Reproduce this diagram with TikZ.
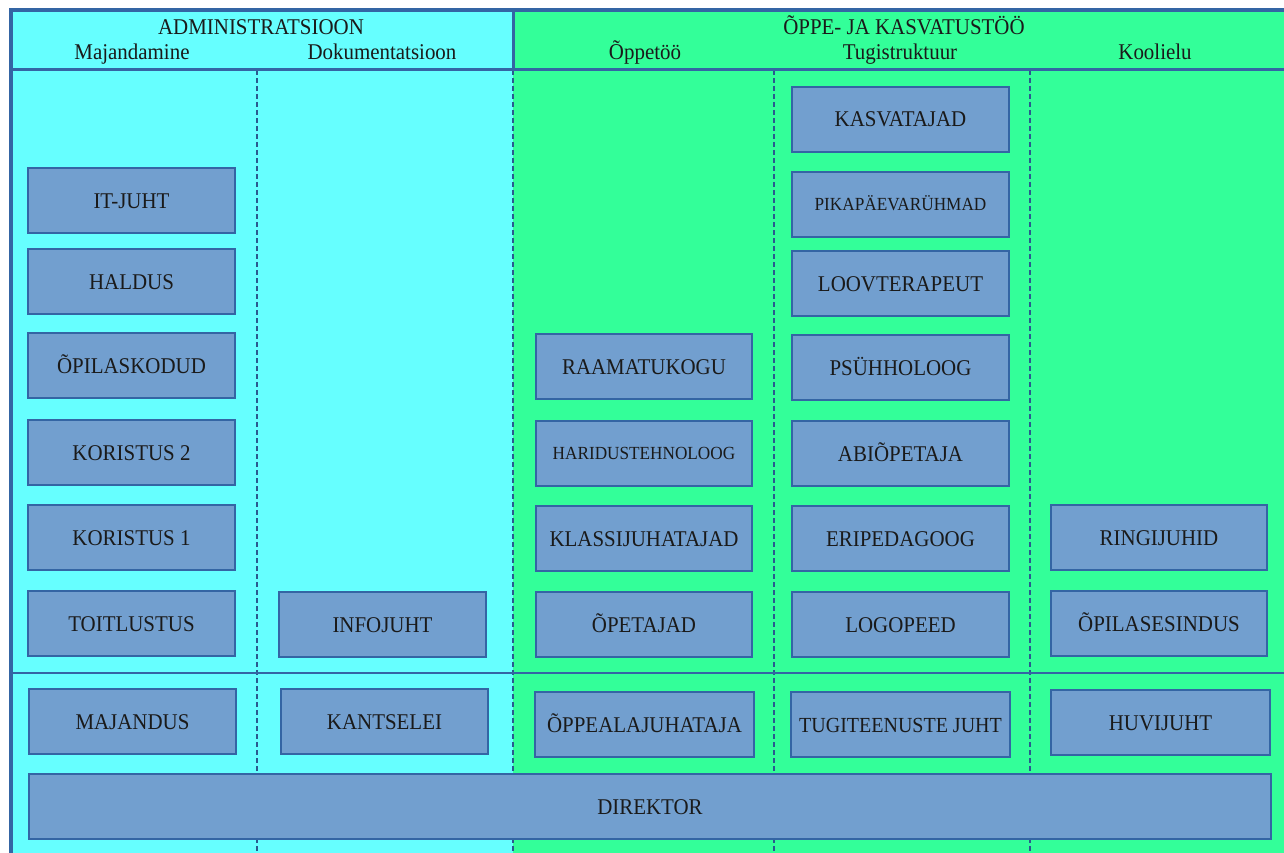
\documentclass[tikz,border=0pt]{standalone}
\usepackage{fontspec}
\setmainfont{Liberation Serif}[FakeStretch=0.93]
\definecolor{cyanbg}{HTML}{66FFFF}
\definecolor{greenbg}{HTML}{33FF99}
\definecolor{boxfill}{HTML}{729FCF}
\definecolor{boxline}{HTML}{3465A4}
\definecolor{frameline}{HTML}{3465A4}
\definecolor{dashcol}{HTML}{2A5A8F}
\definecolor{txt}{HTML}{1A1A1A}
\newcommand\boxfont{\fontsize{22.5}{26}\selectfont}
\newcommand\smallboxfont{\fontsize{18.5}{22}\selectfont}
\newcommand\headfont{\fontsize{22.5}{26}\selectfont}
\tikzset{
  bx/.style={draw=boxline, fill=boxfill, line width=2pt, inner sep=0pt,
    minimum width=207pt, minimum height=65pt, font=\boxfont, text=txt,
    text height=15pt, text depth=0pt},
  sbx/.style={bx, font=\smallboxfont, text height=12.3pt},
  framel/.style={draw=frameline, line width=4pt},
  headl/.style={draw=frameline, line width=3pt},
  midl/.style={draw=frameline, line width=2.5pt},
  dashl/.style={draw=dashcol, line width=2pt, dash pattern=on 5pt off 3pt},
  head/.style={font=\headfont, text=txt, anchor=base, inner sep=0pt}
}
\begin{document}
\begin{tikzpicture}[x=1pt,y=-1pt]
\useasboundingbox (0,0) rectangle (1284,853);
% backgrounds
\fill[cyanbg] (10,10) rectangle (513,853);
\fill[greenbg] (513,10) rectangle (1284,853);
% grid coordinates
\coordinate (tl) at (10.5,10.5);
\coordinate (tr) at (1284,10.5);
\coordinate (bl) at (10.5,853);
\coordinate (hl) at (10,70);
\coordinate (hr) at (1284,70);
\coordinate (ml) at (10,673);
\coordinate (mr) at (1284,673);
\coordinate (v0t) at (513,10);
\coordinate (v0h) at (513,70);
\coordinate (v0b) at (513,853);
\coordinate (v1t) at (257,70);
\coordinate (v1b) at (257,853);
\coordinate (v2t) at (774,70);
\coordinate (v2b) at (774,853);
\coordinate (v3t) at (1030,70);
\coordinate (v3b) at (1030,853);
% lines
\draw[dashl] (v1t) -- (v1b);
\draw[dashl] (v0h) -- (v0b);
\draw[dashl] (v2t) -- (v2b);
\draw[dashl] (v3t) -- (v3b);
\draw[midl] (ml) -- (mr);
\draw[headl] (hl) -- (hr);
\draw[headl] (v0t) -- (v0h);
\draw[framel] (bl) -- (tl) -- (tr);
% headers
\node[head] (hadm) at (261,35) {ADMINISTRATSIOON};
\node[head] (hmaj) at (132,60) {Majandamine};
\node[head] (hdok) at (382,60) {Dokumentatsioon};
\node[head] (hopk) at (904,35) {ÕPPE- JA KASVATUSTÖÖ};
\node[head] (hopp) at (645,60) {Õppetöö};
\node[head] (htug) at (900,60) {Tugistruktuur};
\node[head] (hkoo) at (1155,60) {Koolielu};
% column 1
\node[bx] (itjuht) at (131.5,200.5) {IT-JUHT};
\node[bx] (haldus) at (131.5,281.5) {HALDUS};
\node[bx] (opilaskodud) at (131.5,365.5) {ÕPILASKODUD};
\node[bx] (koristus2) at (131.5,452.5) {KORISTUS 2};
\node[bx] (koristus1) at (131.5,537.5) {KORISTUS 1};
\node[bx] (toitlustus) at (131.5,623.5) {TOITLUSTUS};
\node[bx] (majandus) at (132.5,721.5) {MAJANDUS};
% column 2
\node[bx] (infojuht) at (382.5,624.5) {INFOJUHT};
\node[bx] (kantselei) at (384.5,721.5) {KANTSELEI};
% column 3
\node[bx, minimum width=216pt] (raamatukogu) at (644,366.5) {RAAMATUKOGU};
\node[sbx, minimum width=216pt] (haridus) at (644,453.5) {HARIDUSTEHNOLOOG};
\node[bx, minimum width=216pt] (klassij) at (644,538.5) {KLASSIJUHATAJAD};
\node[bx, minimum width=216pt] (opetajad) at (644,624.5) {ÕPETAJAD};
\node[bx, minimum width=219pt] (oppealaj) at (644.5,724.5) {ÕPPEALAJUHATAJA};
% column 4
\node[bx, minimum width=217pt] (kasvatajad) at (900.5,119.5) {KASVATAJAD};
\node[sbx, minimum width=217pt] (pikapaev) at (900.5,204.5) {PIKAPÄEVARÜHMAD};
\node[bx, minimum width=217pt] (loovterapeut) at (900.5,283.5) {LOOVTERAPEUT};
\node[bx, minimum width=217pt] (psuhholoog) at (900.5,367.5) {PSÜHHOLOOG};
\node[bx, minimum width=217pt] (abiopetaja) at (900.5,453.5) {ABIÕPETAJA};
\node[bx, minimum width=217pt] (eripedagoog) at (900.5,538.5) {ERIPEDAGOOG};
\node[bx, minimum width=217pt] (logopeed) at (900.5,624.5) {LOGOPEED};
\node[bx, minimum width=219pt, font=\fontsize{21.5}{25}\selectfont] (tugijuht) at (900.5,724.5) {TUGITEENUSTE JUHT};
% column 5
\node[bx, minimum width=216pt] (ringijuhid) at (1159,537.5) {RINGIJUHID};
\node[bx, minimum width=216pt] (opilasesindus) at (1159,623.5) {ÕPILASESINDUS};
\node[bx, minimum width=219pt] (huvijuht) at (1160.5,722.5) {HUVIJUHT};
% director
\node[bx, minimum width=1242pt] (direktor) at (650,806.5) {DIREKTOR};
\end{tikzpicture}
\end{document}
